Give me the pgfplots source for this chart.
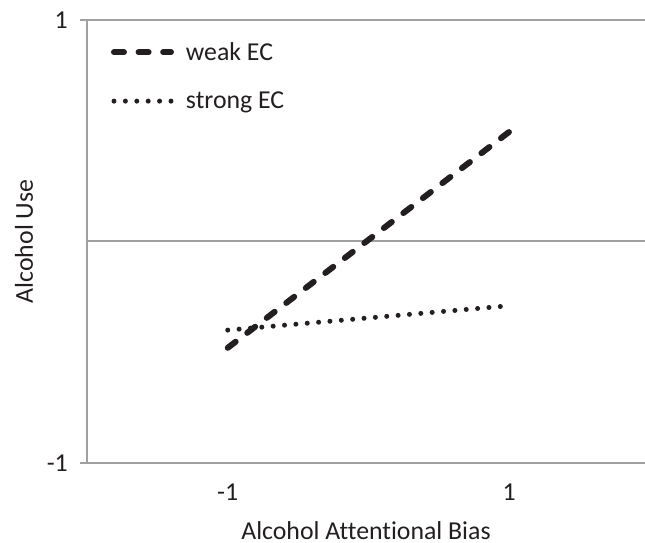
\documentclass[border=0pt]{standalone}
\usepackage{fontspec}
\setmainfont{Carlito}[Ligatures=NoCommon]
\usepackage{pgfplots}
\pgfplotsset{compat=1.18}
\definecolor{axgray}{HTML}{A0A0A0}
\definecolor{ink}{HTML}{231F20}
\begin{document}
\begin{tikzpicture}
\begin{axis}[
  at={(0pt,0pt)}, anchor=south west,
  scale only axis, width=558pt, height=443pt,
  font=\fontsize{25.8}{31}\selectfont,
  xmin=-2, xmax=1.965, ymin=-1, ymax=1,
  axis x line*=bottom, axis y line*=left,
  axis line style={draw=axgray, line width=2pt},
  xtick={-1,1}, xticklabels={-1,1},
  ytick={-1,1}, yticklabels={-1,1},
  ymajorgrids=true,
  grid style={draw=axgray, line width=2pt},
  extra y ticks={0}, extra y tick labels={},
  extra y tick style={grid=major, major tick length=0pt},
  tick align=inside, major tick length=7pt,
  xtick style={draw=none},
  ytick style={draw=axgray, line width=2pt, xshift=-7pt},
  xticklabel style={anchor=north, inner sep=0pt, yshift=-21pt, text=ink},
  yticklabel style={anchor=east, inner sep=0pt, xshift=-19pt, text=ink},
  xlabel={Alcohol Attentional Bias},
  ylabel={Alcohol Use},
  xlabel style={at={(axis description cs:0.5,0)}, anchor=base, yshift=-76pt, text=ink},
  ylabel style={at={(axis description cs:-0.0968,0.5)}, anchor=base, rotate=0, text=ink},
  legend cell align=left,
  legend style={draw=none, fill=none, inner sep=0pt, outer sep=0pt,
    at={(axis description cs:0.043,0.949)}, anchor=north west,
    row sep=30pt, column sep=0pt,
    nodes={inner sep=0pt, text=ink}},
  legend image code/.code={\draw[#1] (3pt,0pt) -- (60pt,0pt);},
  /tikz/every even column/.append style={column sep=0pt},
  /tikz/every odd column/.append style={column sep=12pt},
]
\addplot[ink, line width=6pt, line cap=round, dash pattern=on 10pt off 14.6pt]
  coordinates {(-1,-0.48) (1,0.495)};
\addlegendentry{weak EC}
\addplot[ink, line width=5pt, line cap=round, dash pattern=on 0pt off 11.4pt]
  coordinates {(-1,-0.40) (1,-0.29)};
\addlegendentry{strong EC}
\end{axis}
\pgfresetboundingbox
\path (-87pt,-80pt) rectangle (558pt,463pt);
\end{tikzpicture}
\end{document}
